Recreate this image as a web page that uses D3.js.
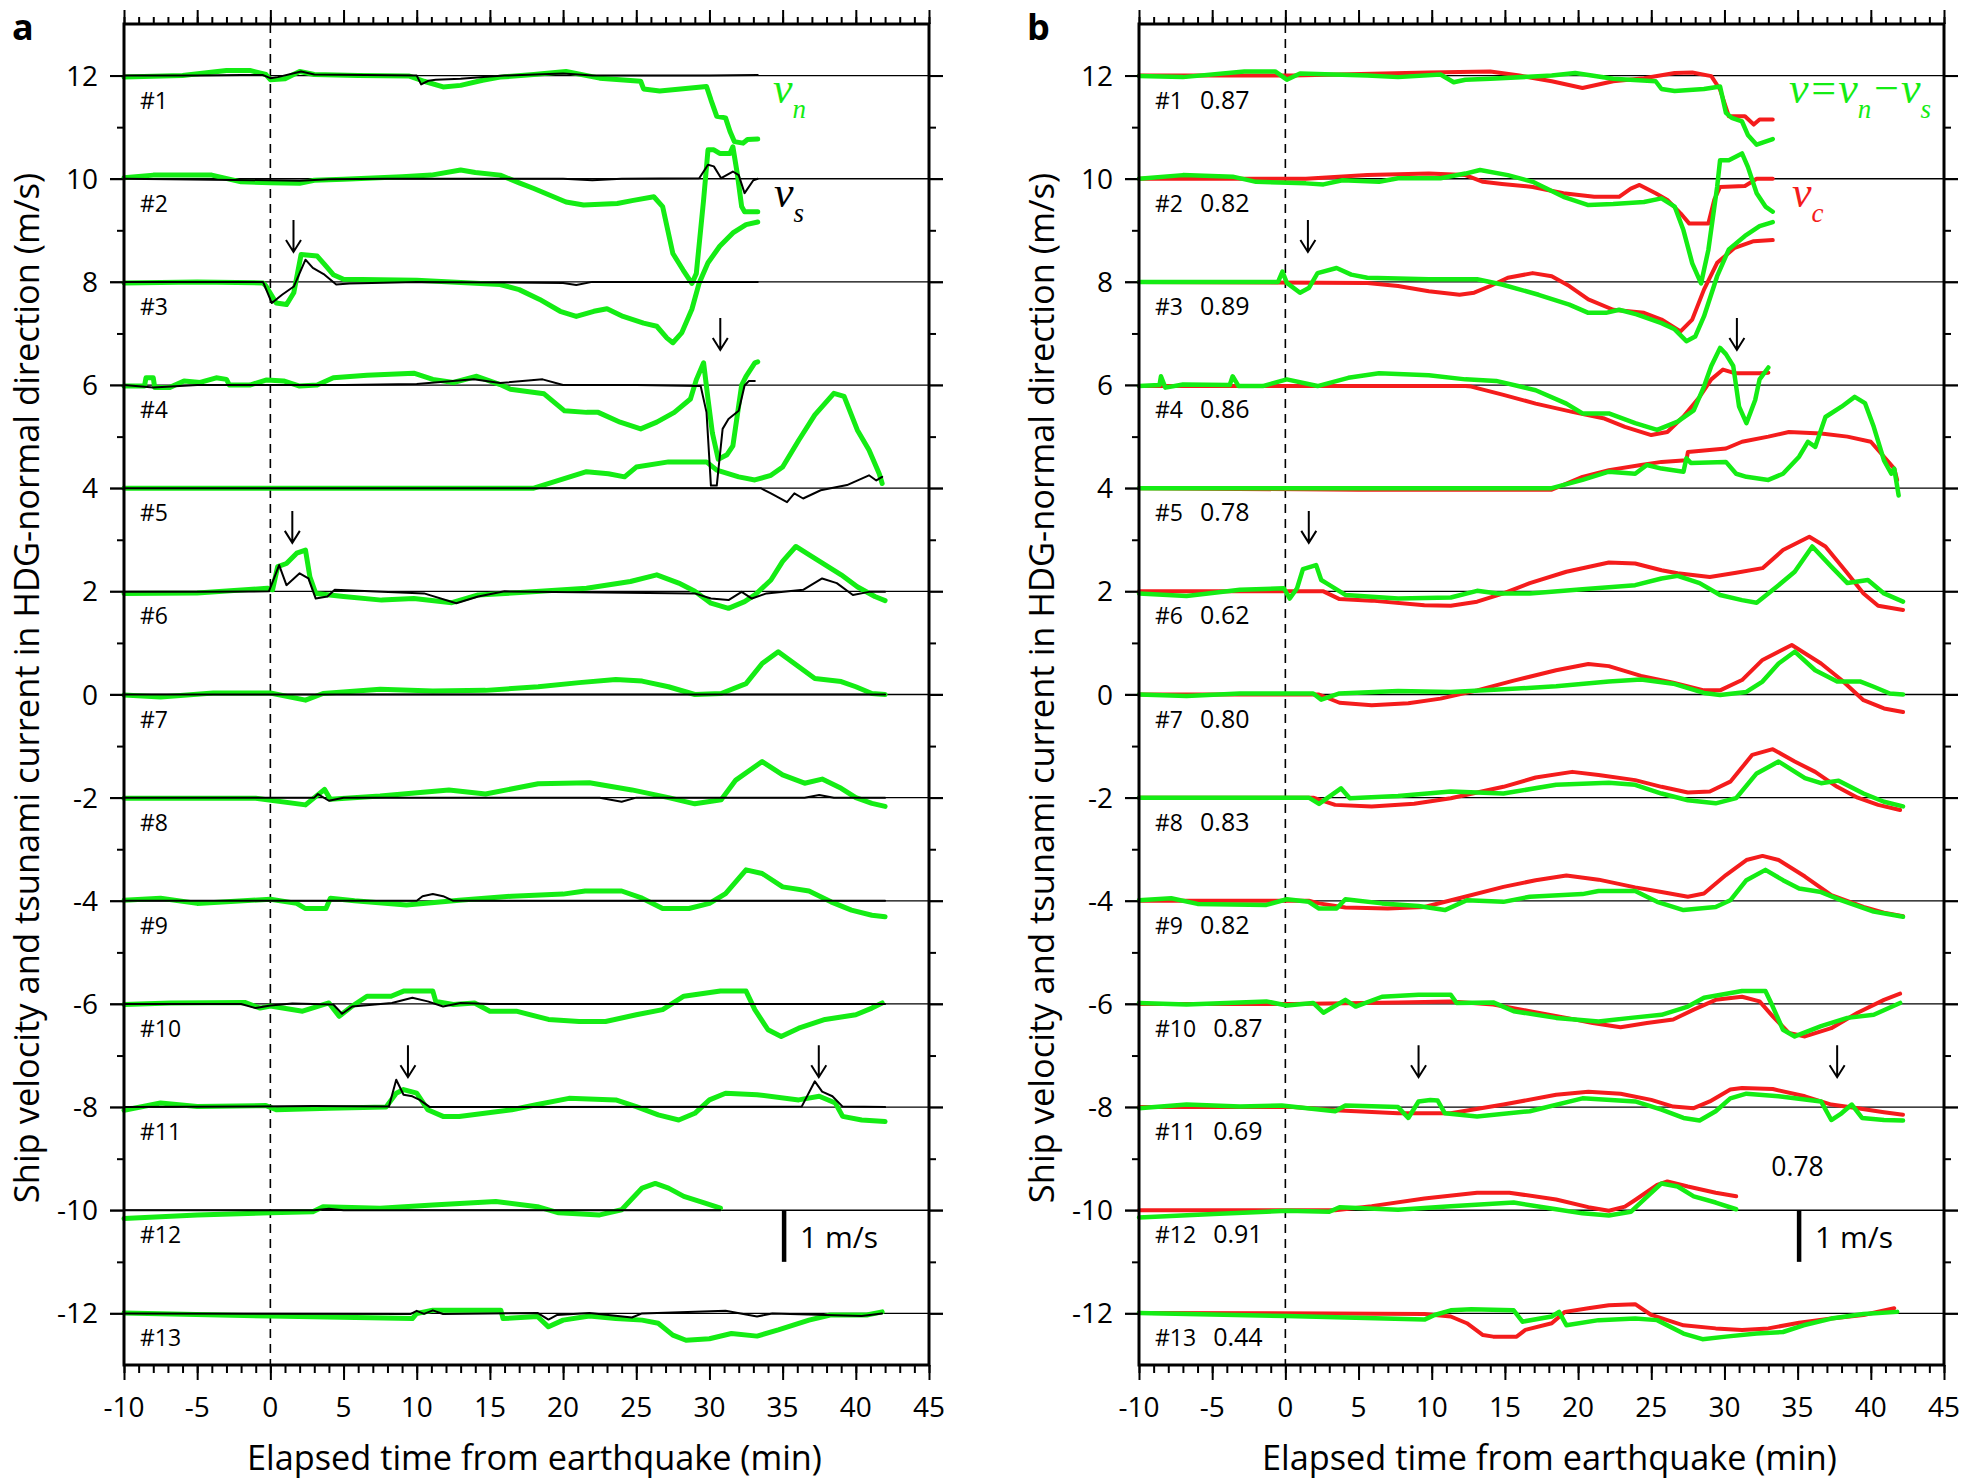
<!DOCTYPE html>
<html><head><meta charset="utf-8">
<script src="https://cdn.jsdelivr.net/npm/d3@7"></script>
<style>body{margin:0;background:#fff} svg{display:block}</style>
</head><body>
<svg id="chart" width="1961" height="1482"></svg>
<script>
// ---------------- DATA ----------------
const xTicks = [-10,-5,0,5,10,15,20,25,30,35,40,45];
const yTicks = [12,10,8,6,4,2,0,-2,-4,-6,-8,-10,-12];
const baselines = [12,10,8,6,4,2,0,-2,-4,-6,-8,-10,-12];
const traceLabels = ["#1","#2","#3","#4","#5","#6","#7","#8","#9","#10","#11","#12","#13"];
const corrB = ["0.87","0.82","0.89","0.86","0.78","0.62","0.80","0.83","0.82","0.87","0.69","0.91","0.44"];
const extraCorr = {label:"0.78", t:33.2, v:-9.34};
// arrows: [trace index (1-based), time (min), tip offset above baseline (m/s)]
const arrowsA = [[3,1.58,0.58],[4,30.74,0.68],[6,1.5,0.94],[11,9.4,0.58],[11,37.47,0.58]];
const arrowsB = [[3,1.54,0.58],[4,30.85,0.68],[6,1.6,0.94],[11,9.1,0.58],[11,37.7,0.58]];
const scaleBar = {t:35.1, from:-10, to:-11, label:"1 m/s"};

// panel a : v_n (green), deviations from each trace baseline [t, m/s]
const vnA = [
 [[-10,-0.03],[-6,0],[-3,0.1],[-1.4,0.1],[-0.3,0.02],[0,-0.08],[1,-0.06],[2,0.08],[3,0.02],[6,0],[9.5,-0.01],[10.5,-0.11],[11.8,-0.22],[13,-0.19],[14.5,-0.09],[15.7,-0.03],[18,0.02],[20.2,0.08],[22.5,-0.05],[25.3,-0.11],[25.5,-0.26],[26.6,-0.3],[29.8,-0.21],[30.1,-0.47],[30.5,-0.79],[31.1,-0.82],[31.4,-1.08],[31.7,-1.28],[32.3,-1.31],[32.6,-1.24],[33.3,-1.23]],
 [[-10,0.02],[-8,0.07],[-4,0.07],[-2,-0.06],[0,-0.08],[2,-0.09],[3,-0.03],[5,-0.01],[9,0.04],[11,0.07],[13,0.17],[14,0.12],[15.7,0.07],[17,-0.08],[18,-0.19],[20.2,-0.45],[21.4,-0.51],[23.7,-0.48],[24.8,-0.42],[26.2,-0.35],[26.8,-0.54],[27.5,-1.45],[28.2,-1.77],[28.8,-2.03],[29.1,-1.84],[29.6,-0.41],[29.9,0.56],[30.3,0.56],[30.7,0.49],[31.4,0.49],[31.6,0.62],[31.9,0.1],[32.2,-0.54],[32.4,-0.64],[33.3,-0.64]],
 [[-10,-0.02],[-5,0],[-0.5,-0.02],[-0.3,-0.08],[0.4,-0.41],[1.1,-0.44],[1.6,-0.21],[2.1,0.53],[3.2,0.5],[3.7,0.34],[4.3,0.14],[5,0.05],[10,0.03],[15.7,-0.05],[17,-0.15],[18.4,-0.34],[19.8,-0.57],[20.9,-0.67],[22.1,-0.57],[23,-0.52],[24.1,-0.67],[25.5,-0.8],[26.4,-0.86],[27.1,-1.09],[27.5,-1.18],[28.1,-0.99],[28.8,-0.53],[29.3,-0.02],[29.9,0.37],[30.7,0.69],[31.6,0.95],[32.5,1.11],[33.3,1.16]],
 [[-10,-0.02],[-8.6,-0.02],[-8.5,0.14],[-8,0.14],[-7.9,-0.05],[-6.9,-0.05],[-5.9,0.08],[-4.8,0.05],[-3.7,0.14],[-3,0.11],[-2.8,0],[-1.4,0],[-0.25,0.1],[0.9,0.08],[2,-0.02],[3.2,0],[4.3,0.14],[6.6,0.19],[9.8,0.23],[11.1,0.11],[12.5,0.05],[14.1,0.17],[15.7,0.01],[16.4,-0.08],[18.7,-0.17],[20.1,-0.5],[21.6,-0.53],[22.4,-0.53],[23.9,-0.72],[25.3,-0.85],[26.4,-0.72],[27.6,-0.53],[28.7,-0.27],[29.1,0.1],[29.6,0.43],[29.9,-0.27],[30.2,-0.93],[30.6,-1.44],[31.2,-1.35],[31.6,-1.18],[32.2,0],[32.5,0.17],[33.1,0.43],[33.3,0.45]],
 [[-10,0],[18,0],[19.8,0.16],[21.6,0.32],[23.1,0.28],[24.2,0.22],[25,0.41],[27.2,0.51],[29.8,0.51],[30.5,0.35],[32,0.22],[33.1,0.16],[34.2,0.25],[35,0.41],[36.1,0.93],[37.2,1.42],[38.5,1.84],[39.2,1.78],[40.1,1.13],[40.9,0.74],[41.6,0.28],[41.8,0.09]],
 [[-10,-0.04],[-5,-0.03],[-0.2,0.06],[0.15,0.03],[0.5,0.48],[1.1,0.54],[1.8,0.74],[2.4,0.8],[2.7,0.28],[3.1,-0.04],[5,-0.1],[7.6,-0.17],[9.8,-0.14],[12.4,-0.22],[14.2,-0.07],[17.9,-0.01],[21.6,0.06],[24.6,0.19],[26.4,0.32],[27.9,0.16],[29,0],[30.1,-0.23],[31.3,-0.33],[32.4,-0.2],[33.1,-0.07],[34.2,0.22],[35,0.58],[35.9,0.87],[37.2,0.64],[39,0.32],[40.1,0.09],[41.3,-0.1],[42,-0.18]],
 [[-10,-0.01],[-7.5,-0.05],[-3.9,0.03],[0,0.03],[2.4,-0.11],[3.6,0.02],[7.5,0.1],[11.1,0.07],[14.7,0.08],[18.3,0.15],[21.1,0.23],[23.6,0.29],[25.4,0.26],[27.2,0.15],[29,0],[30.8,0.02],[32.5,0.21],[33.6,0.6],[34.7,0.83],[35.8,0.6],[37.2,0.31],[39,0.25],[40,0.15],[41.1,0.02],[42,0]],
 [[-10,-0.01],[-1,-0.01],[2.4,-0.14],[3.7,0.16],[4.1,-0.03],[7.5,0.03],[12.2,0.15],[14.7,0.07],[18.3,0.27],[21.8,0.29],[24.7,0.15],[27.2,0],[29,-0.12],[30.8,-0.04],[31.8,0.34],[33.6,0.7],[35,0.44],[36.5,0.28],[37.7,0.36],[39,0.18],[40,0],[41.1,-0.11],[42,-0.17]],
 [[-10,0.01],[-7.5,0.05],[-5,-0.05],[0,0.03],[1.8,-0.05],[2.4,-0.15],[3.8,-0.15],[4.1,0.05],[5.75,0],[9.3,-0.08],[12.9,0.01],[16.5,0.09],[20,0.13],[21.5,0.19],[24,0.19],[25.4,0.05],[26.8,-0.15],[28.6,-0.15],[30,-0.05],[31.1,0.14],[32.5,0.6],[33.6,0.53],[35,0.27],[36.8,0.19],[38.3,-0.02],[39.7,-0.18],[41.1,-0.28],[42,-0.31]],
 [[-10,-0.01],[-6.8,0.02],[-1.75,0.03],[-0.7,-0.08],[0,-0.04],[2.2,-0.14],[4,0.02],[4.7,-0.24],[5.6,-0.04],[6.6,0.15],[8.25,0.15],[9.1,0.25],[11.1,0.25],[11.3,0.05],[12.5,-0.01],[13.95,0.02],[15,-0.14],[16.8,-0.14],[19,-0.3],[21.1,-0.34],[22.9,-0.34],[25,-0.21],[26.8,-0.11],[28.25,0.15],[30.75,0.25],[32.5,0.25],[33.1,-0.11],[34,-0.5],[34.9,-0.63],[36.1,-0.47],[37.9,-0.3],[40,-0.21],[41.1,-0.08],[41.8,0.02]],
 [[-10,-0.06],[-7.5,0.08],[-5,0.01],[-0.3,0.03],[0.4,-0.05],[4,-0.02],[7.9,0],[8.6,0.27],[9.1,0.34],[10,0.27],[10.75,-0.05],[11.8,-0.18],[12.9,-0.18],[16.5,-0.05],[18.25,0.05],[20.4,0.17],[23.6,0.14],[25,0.01],[26.5,-0.15],[27.9,-0.25],[29,-0.12],[30,0.14],[31.1,0.27],[33.25,0.24],[36.1,0.14],[37.5,0.21],[38.6,0.08],[39.1,-0.18],[40.4,-0.25],[42,-0.28]],
 [[-10,-0.16],[-5,-0.09],[0,-0.05],[2.9,-0.03],[3.6,0.07],[7.5,0.04],[11.1,0.1],[15.4,0.17],[18.25,0.07],[19.7,-0.05],[22.5,-0.09],[24,0.01],[25.4,0.43],[26.3,0.52],[27.2,0.43],[28.25,0.27],[29.7,0.14],[30.75,0.04]],
 [[-10,0.01],[0,-0.05],[9.7,-0.1],[10,0],[11.1,0.06],[15.75,0.06],[15.9,-0.1],[18.25,-0.06],[19,-0.26],[20,-0.13],[21.8,-0.05],[23.6,-0.1],[25.4,-0.13],[26.5,-0.19],[27.5,-0.42],[28.4,-0.52],[30,-0.49],[31.5,-0.39],[33.25,-0.44],[34.7,-0.32],[36.8,-0.13],[38.25,-0.03],[40.75,-0.03],[41.8,0.03]]
];
// panel a : v_s (black)
const vsA = [
 [[-10,0],[-5,0],[-2,0.01],[-0.5,0.01],[0,-0.05],[0.5,-0.03],[2.1,0.08],[3,0.02],[10,0],[10.3,-0.17],[10.8,-0.1],[11.3,-0.08],[13,-0.06],[15,-0.02],[16,0],[20,0.04],[22,0],[26,0],[30,0],[33.3,0.01]],
 [[-10,0],[0,-0.03],[2,-0.04],[4,-0.01],[8,0],[20,0],[22,-0.03],[24,0],[29.3,0.01],[29.9,0.27],[30.3,0.24],[30.8,0.01],[31.6,0.14],[32,0.07],[32.4,-0.28],[33,-0.03],[33.3,0]],
 [[-10,0],[-5,0],[-0.5,0],[0.1,-0.41],[0.8,-0.25],[1.6,-0.09],[2.4,0.43],[2.9,0.27],[3.7,0.14],[4.5,-0.05],[5.4,-0.03],[10,0],[20,-0.02],[20.9,-0.06],[22,0],[33.3,0]],
 [[-10,0],[-8,-0.05],[-5,0],[5,0],[10,0.02],[13.9,0.11],[15.7,0.04],[18.6,0.11],[20,0],[25,0],[29.4,-0.02],[29.8,-0.53],[30.1,-1.95],[30.5,-1.95],[30.9,-0.85],[31.3,-0.66],[32,-0.5],[32.4,-0.01],[32.7,0.08],[33.1,0.08]],
 [[-10,0],[30,0],[33.5,0],[34.2,-0.1],[35.3,-0.27],[35.8,-0.1],[36.4,-0.2],[37.6,-0.04],[39.4,0.06],[40.9,0.25],[41.4,0.15],[41.8,0.22]],
 [[-10,-0.01],[-5,-0.01],[-0.1,0],[0.6,0.51],[1.1,0.12],[2,0.35],[2.6,0.25],[3.1,-0.14],[3.9,-0.1],[4.4,0.03],[10.5,-0.04],[12.7,-0.23],[14.2,-0.1],[16,0],[29,-0.04],[30.1,-0.14],[31.3,-0.17],[32.2,-0.01],[32.9,-0.14],[33.9,-0.04],[36.4,0.03],[37.7,0.25],[38.7,0.16],[39.8,-0.07],[40.9,-0.01],[42,-0.01]],
 [[-10,0],[42,0]],
 [[-10,0],[3,0],[3.25,0.07],[4,-0.06],[5,0],[22.5,0],[24,-0.08],[25,0],[36.5,0],[37.5,0.05],[38.5,0],[42,0]],
 [[-10,0],[10,0],[10.4,0.09],[11.1,0.13],[11.8,0.09],[12.5,0],[42,0]],
 [[-10,0],[-2,0],[-1,-0.08],[0,-0.03],[1.5,0.01],[4.3,-0.01],[4.9,-0.19],[5.6,-0.05],[8.3,0.02],[9.7,0.12],[10.75,0.05],[11.8,-0.05],[13,0.02],[15,0],[42,0]],
 [[-10,0],[3,0.02],[8.1,0.01],[8.6,0.53],[9.1,0.24],[9.7,0.21],[10.2,0.14],[10.9,0],[36.3,0.01],[37.2,0.5],[37.7,0.3],[38.4,0.21],[39.1,0.01],[42,0]],
 [[-10,0],[3,0],[4,0.03],[5,0],[30.75,0]],
 [[-10,0],[9.6,-0.01],[10,0.05],[10.5,-0.01],[11.1,0.06],[11.8,-0.01],[18.25,0.01],[19,-0.12],[19.6,-0.03],[21.8,0.01],[24.7,-0.08],[25.4,0],[31.1,0.05],[33.25,-0.06],[34.3,0],[40.4,-0.05],[41.8,0]]
];
// panel b : v = v_n - v_s (green)
const vB = [
 [[-10,-0.01],[-7,-0.03],[-2.8,0.08],[-0.7,0.08],[0.1,-0.08],[1,0.04],[5.6,0],[7.7,-0.03],[10.6,0.02],[11.5,-0.13],[12.3,-0.08],[14,-0.06],[18.2,0],[19.8,0.05],[22.4,-0.06],[25.3,-0.11],[25.7,-0.26],[26.6,-0.3],[28.6,-0.26],[29.7,-0.21],[30.1,-0.72],[30.5,-0.82],[31.2,-0.89],[31.6,-1.15],[32.2,-1.34],[33.3,-1.23]],
 [[-10,0],[-7,0.07],[-3.6,0.04],[-2,-0.06],[1.4,-0.09],[2.6,-0.11],[3.9,-0.03],[6.4,-0.06],[7.7,0.01],[10.6,0.01],[12.3,0.1],[13.3,0.17],[15.2,0.07],[16.9,-0.06],[19,-0.35],[20.7,-0.51],[22.4,-0.49],[24.5,-0.45],[25.7,-0.38],[26.6,-0.54],[27.2,-1],[27.8,-1.64],[28.4,-2.03],[28.9,-1.38],[29.5,-0.16],[29.7,0.36],[30.3,0.36],[31.2,0.49],[31.6,0.23],[32.2,-0.28],[32.8,-0.54],[33.3,-0.64]],
 [[-10,0],[-0.5,0],[-0.2,0.2],[0.1,-0.02],[1,-0.21],[1.6,-0.12],[2.2,0.17],[3.5,0.27],[4.5,0.14],[5.6,0.08],[9.8,0.05],[13.1,0.05],[14.8,-0.05],[17.3,-0.25],[19.4,-0.44],[20.7,-0.6],[21.9,-0.6],[22.8,-0.54],[24,-0.63],[25.7,-0.8],[26.6,-0.92],[27.4,-1.15],[28,-1.06],[28.6,-0.67],[29.5,0.11],[30.3,0.63],[31.4,0.89],[32.4,1.08],[33.3,1.16]],
 [[-10,-0.02],[-8.6,0],[-8.5,0.17],[-8.2,-0.05],[-7,0.01],[-3.8,0],[-3.6,0.17],[-3.2,-0.02],[-1.55,-0.02],[0.1,0.11],[2.2,-0.02],[4.3,0.14],[6.4,0.23],[9.8,0.19],[12.3,0.11],[14.4,0.08],[17.1,-0.1],[19.2,-0.36],[20.3,-0.55],[22.1,-0.55],[23.9,-0.74],[25.4,-0.87],[26.8,-0.71],[27.9,-0.49],[28.6,-0.03],[29.1,0.37],[29.7,0.72],[30.1,0.6],[30.6,0.37],[31,-0.42],[31.5,-0.74],[32.1,-0.29],[32.4,0.11],[33,0.34]],
 [[-10,0],[18.2,0],[20.3,0.16],[22.1,0.32],[23.9,0.28],[24.7,0.45],[25.7,0.38],[27.2,0.32],[27.4,0.58],[27.7,0.49],[30.1,0.51],[30.8,0.28],[31.5,0.22],[33,0.16],[34,0.28],[35.1,0.61],[35.7,0.9],[36.2,0.8],[36.9,1.38],[38,1.58],[38.9,1.77],[39.6,1.65],[40.2,1.19],[40.9,0.54],[41.4,0.28],[41.6,0.38],[41.9,-0.14]],
 [[-10,-0.04],[-6.75,-0.09],[-3.1,0.03],[-0.1,0.06],[0.3,-0.14],[0.8,0.06],[1.2,0.43],[2.1,0.51],[2.45,0.22],[2.8,0.16],[4.1,-0.07],[7.7,-0.14],[11.3,-0.12],[13.1,0.01],[14.5,-0.04],[16.7,-0.04],[20.3,0.04],[23.9,0.12],[25.7,0.25],[26.8,0.3],[28.3,0.16],[29.7,-0.07],[31.2,-0.17],[32.2,-0.22],[33.7,0.12],[34.8,0.38],[36,0.87],[37.3,0.48],[38.4,0.16],[39.8,0.22],[40.9,-0.04],[42.2,-0.2]],
 [[-10,0],[-6.75,-0.03],[-3.1,0.02],[1.9,0.02],[2.45,-0.1],[3.7,0.02],[7.7,0.07],[11.3,0.05],[14.9,0.1],[18.5,0.16],[22.1,0.25],[24.3,0.29],[26.5,0.21],[28.6,0.03],[29.7,-0.01],[31.5,0.05],[32.6,0.25],[33.7,0.6],[34.8,0.83],[36.2,0.47],[37.7,0.25],[39.3,0.25],[40.2,0.15],[41.3,0.02],[42.2,0]],
 [[-10,0],[1.6,0],[2.3,-0.12],[3.8,0.18],[4.4,-0.01],[7.7,0.03],[11.3,0.12],[14.9,0.08],[18.5,0.25],[22.1,0.29],[23.9,0.25],[25.7,0.08],[27.5,-0.05],[29.4,-0.11],[30.8,-0.01],[32.2,0.47],[33.7,0.7],[35.5,0.38],[36.6,0.28],[37.8,0.33],[39.5,0.08],[40.9,-0.08],[42.2,-0.17]],
 [[-10,0.01],[-7.8,0.05],[-6,-0.06],[-1.3,-0.08],[0.1,0.03],[1.6,-0.02],[2.3,-0.15],[3.5,-0.15],[4.1,0.03],[6.6,-0.05],[9.1,-0.1],[10.9,-0.18],[12.4,0.01],[14.9,-0.02],[16.7,0.08],[20.3,0.13],[21.4,0.19],[23.9,0.19],[25.4,-0.02],[27.2,-0.18],[29.4,-0.12],[30.4,0.01],[31.5,0.4],[32.8,0.6],[34,0.4],[35.1,0.24],[36.6,0.17],[38,0.01],[40.2,-0.21],[42.2,-0.31]],
 [[-10,0.02],[-6.75,-0.01],[-1.3,0.05],[0.1,-0.03],[1.9,0.02],[2.6,-0.17],[4.1,0.08],[4.8,-0.05],[6.6,0.14],[9.1,0.18],[11.3,0.18],[11.7,0.02],[14.2,0.03],[15.6,-0.14],[18.5,-0.27],[21.4,-0.34],[23.6,-0.27],[25.7,-0.21],[27.5,-0.05],[28.6,0.12],[31.2,0.25],[32.8,0.25],[33.3,-0.05],[34,-0.5],[34.8,-0.63],[36.6,-0.43],[38.4,-0.27],[40.2,-0.21],[42,0.02]],
 [[-10,-0.02],[-6.75,0.05],[-3.1,0.01],[-0.25,0.03],[3.4,-0.08],[4.1,0.03],[7.7,0],[8.4,-0.21],[9.1,0.11],[9.9,0.14],[10.4,0.13],[10.9,-0.12],[13.1,-0.18],[16.7,-0.08],[20.3,0.17],[23.9,0.11],[25.7,-0.05],[27.2,-0.21],[28.3,-0.26],[29.4,-0.08],[30.4,0.17],[31.5,0.26],[33.7,0.21],[36.6,0.11],[37.3,-0.25],[38,-0.12],[38.7,0.05],[39.4,-0.21],[40.9,-0.25],[42.2,-0.26]],
 [[-10,-0.14],[-4.9,-0.07],[0.1,-0.01],[3,-0.03],[3.7,0.06],[7.7,0.01],[11.3,0.08],[15.6,0.15],[18.5,0.02],[20.3,-0.06],[22.1,-0.1],[23.6,-0.03],[24.7,0.26],[25.7,0.52],[26.8,0.46],[27.9,0.27],[29.4,0.15],[30.8,0.02]],
 [[-10,0.01],[0.1,-0.05],[9.5,-0.12],[10.2,-0.03],[11.3,0.06],[12.7,0.08],[15.6,0.06],[16.2,-0.16],[18.2,-0.06],[18.7,0.03],[19.2,-0.23],[21.4,-0.13],[23.9,-0.1],[25.4,-0.13],[27.2,-0.39],[28.5,-0.5],[30.1,-0.45],[32.2,-0.39],[34,-0.36],[35.4,-0.23],[37.3,-0.1],[39.5,-0.01],[41.8,0.03]]
];
// panel b : v_c (red)
const vcB = [
 [[-10,0],[0.5,0],[9.8,0.06],[14,0.08],[16,0],[18.2,-0.11],[20.3,-0.24],[22.4,-0.11],[24.5,-0.05],[26.6,0.05],[27.8,0.06],[29.1,-0.01],[29.7,-0.27],[30.3,-0.79],[31.4,-0.79],[32,-0.95],[32.4,-0.85],[33.3,-0.85]],
 [[-10,0],[1.4,0],[5.6,0.07],[9.8,0.1],[12.3,0.07],[13.5,-0.06],[14.8,-0.1],[16.9,-0.16],[19,-0.28],[21.1,-0.35],[22.8,-0.35],[23.6,-0.19],[24.2,-0.12],[25.3,-0.28],[26.1,-0.41],[27,-0.67],[27.6,-0.87],[28.9,-0.87],[29.3,-0.41],[29.7,-0.16],[31.4,-0.14],[32.2,0],[33.3,0]],
 [[-10,0],[5.6,-0.02],[7.7,-0.08],[9.8,-0.18],[11.9,-0.25],[12.9,-0.21],[14,-0.08],[15.2,0.08],[16.9,0.17],[18.2,0.11],[19.4,-0.08],[20.7,-0.34],[22.4,-0.54],[24.5,-0.6],[25.7,-0.73],[27,-0.96],[27.8,-0.73],[28.6,-0.15],[29.5,0.37],[30.7,0.66],[32,0.79],[33.3,0.81]],
 [[-10,-0.02],[12.3,-0.02],[12.7,-0.03],[14.9,-0.19],[17.1,-0.36],[19.6,-0.52],[21.8,-0.65],[23.2,-0.81],[25,-0.97],[26.1,-0.91],[27.2,-0.61],[28.3,-0.23],[29.1,0.11],[29.9,0.3],[30.7,0.23],[32.4,0.23],[33,0.24]],
 [[-10,0],[5,-0.03],[18.2,-0.03],[20.3,0.22],[22.1,0.35],[24.3,0.45],[25.7,0.51],[27.4,0.54],[27.5,0.7],[30.1,0.77],[31.2,0.9],[33,1],[34.4,1.09],[36.6,1.06],[38.4,1],[40,0.9],[40.9,0.61],[41.6,0.38],[41.8,0.16]],
 [[-10,0],[2.6,0],[3.7,-0.15],[5.9,-0.18],[9.5,-0.27],[11.3,-0.28],[13.1,-0.2],[14.9,-0.04],[16.7,0.16],[19.2,0.38],[22.1,0.56],[23.9,0.54],[25.7,0.41],[26.8,0.35],[29,0.28],[30.8,0.36],[32.6,0.45],[34,0.8],[35.8,1.06],[36.9,0.87],[38.4,0.35],[39.5,-0.04],[40.5,-0.28],[42.2,-0.36]],
 [[-10,0],[2.3,0],[3.7,-0.16],[5.9,-0.21],[8.4,-0.17],[10.6,-0.08],[13.1,0.08],[15.6,0.27],[18.5,0.47],[20.7,0.59],[22.1,0.55],[24.3,0.36],[26.5,0.23],[28.6,0.08],[29.7,0.08],[31.2,0.28],[32.6,0.67],[34.6,0.96],[36.6,0.6],[38,0.28],[39.5,-0.11],[40.9,-0.27],[42.2,-0.34]],
 [[-10,0],[1.9,0],[3.4,-0.14],[5.9,-0.17],[8.8,-0.12],[11.3,-0.01],[14.9,0.21],[17.1,0.39],[19.6,0.5],[21.4,0.44],[23.9,0.34],[25.7,0.21],[27.5,0.1],[29,0.12],[30.4,0.31],[31.9,0.83],[33.3,0.94],[34.8,0.7],[36.2,0.5],[37.7,0.21],[39.1,0],[40.5,-0.14],[42,-0.24]],
 [[-10,0],[1.6,0],[2.3,-0.05],[4.1,-0.13],[7,-0.15],[9.5,-0.12],[12,0.06],[14.9,0.27],[17.1,0.4],[19.2,0.49],[21.4,0.41],[23.9,0.26],[25.7,0.17],[27.5,0.08],[28.6,0.14],[30.1,0.5],[31.5,0.79],[32.6,0.87],[33.7,0.79],[35.5,0.47],[37.3,0.11],[39.5,-0.12],[40.9,-0.23],[42.2,-0.3]],
 [[-10,0],[0.5,0],[7.7,0.03],[11.3,0.05],[14.2,-0.01],[16.7,-0.14],[19.2,-0.27],[21,-0.37],[22.9,-0.45],[24.7,-0.37],[26.5,-0.3],[27.9,-0.11],[29.4,0.08],[31.2,0.14],[32.4,0.05],[33.3,-0.24],[34.4,-0.56],[35.5,-0.63],[37.3,-0.47],[39.1,-0.17],[40.9,0.08],[42,0.2]],
 [[-10,0],[0.5,0],[3.4,-0.06],[7.7,-0.12],[11.3,-0.12],[14.9,0.05],[18.5,0.24],[20.7,0.3],[22.9,0.26],[25,0.14],[26.5,0.01],[27.9,-0.02],[29,0.11],[30.4,0.34],[31.2,0.37],[33.3,0.35],[35.5,0.21],[37.3,0.05],[39.1,-0.02],[40.9,-0.1],[42.2,-0.15]],
 [[-10,0],[3.4,0],[5.9,0.08],[9.5,0.23],[13.1,0.34],[15.3,0.34],[18.5,0.21],[20.7,0.06],[22.1,-0.01],[23.2,0.07],[23.9,0.2],[25.4,0.49],[26.1,0.56],[27.5,0.46],[29.4,0.34],[30.8,0.27]],
 [[-10,0.01],[3,0],[9.5,-0.01],[11.3,-0.06],[12.4,-0.19],[13.5,-0.42],[14.2,-0.45],[15.8,-0.45],[16.4,-0.32],[18.2,-0.19],[19.1,0.03],[20.7,0.1],[22.1,0.16],[23.9,0.18],[25,-0.03],[27.2,-0.23],[29.4,-0.29],[31.2,-0.32],[33,-0.29],[35.1,-0.18],[37.3,-0.1],[39.5,-0.03],[41.6,0.1]]
];

// ---------------- DRAWING ----------------
const svg = d3.select("#chart");
const FONT = "'Open Sans','Noto Sans',sans-serif";
const SERIF = "'Liberation Serif','DejaVu Serif',serif";
const GREEN = "#14ec14", RED = "#f41c1c";
const y = d3.scaleLinear().domain([-13,13]).range([1365,24]);
const xA = d3.scaleLinear().domain([-10,45]).range([124,929]);
const xB = d3.scaleLinear().domain([-10,45]).range([1139,1944]);
const minorX = d3.range(-10,46,1);
const minorY = d3.range(-11,12,2);

function fitText(sel, target){
  const n = sel.node(); const w = n.getComputedTextLength();
  const fs = parseFloat(sel.attr("font-size"));
  const nf = fs*target/w;
  sel.attr("font-size", nf.toFixed(2));
  return nf;
}

function panel(x, series, arrows, letter, withCorr){
  const g = svg.append("g");
  const [x0,x1] = x.range();
  const [yb,yt] = y.range();
  g.selectAll("line.base").data(baselines).join("line").attr("class","base")
    .attr("x1",x0-14).attr("x2",x1+14).attr("y1",d=>y(d)).attr("y2",d=>y(d))
    .attr("stroke","#000").attr("stroke-width",1.3);
  g.append("line").attr("x1",x(0)).attr("x2",x(0)).attr("y1",yt).attr("y2",yb)
    .attr("stroke","#000").attr("stroke-width",1.6).attr("stroke-dasharray","9,6");
  series.forEach(s=>{
    s.data.forEach((tr,i)=>{
      const base = baselines[i];
      const line = d3.line().x(d=>x(d[0])).y(d=>y(base+d[1]));
      g.append("path").attr("d",line(tr)).attr("fill","none").attr("stroke",s.color)
        .attr("stroke-width",s.width).attr("stroke-linejoin","round").attr("stroke-linecap","round");
    });
  });
  g.append("rect").attr("x",x0).attr("y",yt).attr("width",x1-x0).attr("height",yb-yt)
    .attr("fill","none").attr("stroke","#000").attr("stroke-width",3);
  const clean = s=>{ s.select(".domain").remove(); s.selectAll(".tick line").attr("stroke-width",2); };
  g.append("g").attr("transform",`translate(0,${yt})`).call(d3.axisTop(x).tickValues(minorX).tickSize(7).tickFormat("")).call(clean);
  g.append("g").attr("transform",`translate(0,${yt})`).call(d3.axisTop(x).tickValues(xTicks).tickSize(14).tickFormat("")).call(clean);
  g.append("g").attr("transform",`translate(0,${yb})`).call(d3.axisBottom(x).tickValues(minorX).tickSize(8).tickFormat("")).call(clean);
  g.append("g").attr("transform",`translate(0,${yb})`).call(d3.axisBottom(x).tickValues(xTicks).tickSize(15).tickFormat("")).call(clean);
  g.append("g").attr("transform",`translate(${x0},0)`).call(d3.axisLeft(y).tickValues(minorY).tickSize(7).tickFormat("")).call(clean);
  g.append("g").attr("transform",`translate(${x0},0)`).call(d3.axisLeft(y).tickValues(yTicks).tickSize(14).tickFormat("")).call(clean);
  g.append("g").attr("transform",`translate(${x1},0)`).call(d3.axisRight(y).tickValues(minorY).tickSize(7).tickFormat("")).call(clean);
  g.append("g").attr("transform",`translate(${x1},0)`).call(d3.axisRight(y).tickValues(yTicks).tickSize(14).tickFormat("")).call(clean);
  g.selectAll("text.xt").data(xTicks).join("text").attr("class","xt")
    .attr("x",d=>x(d)).attr("y",1417).attr("text-anchor","middle")
    .attr("font-family",FONT).attr("font-size",28).text(d=>String(d));
  g.selectAll("text.yt").data(yTicks).join("text").attr("class","yt")
    .attr("x",x0-26).attr("y",d=>y(d)+10).attr("text-anchor","end")
    .attr("font-family",FONT).attr("font-size",28).text(d=>String(d));
  baselines.forEach((b,i)=>{
    const t = g.append("text").attr("x",x0+16).attr("y",y(b)+33).attr("font-family",FONT)
      .attr("font-size",23).text(traceLabels[i]);
    if(withCorr){
      const w = t.node().getComputedTextLength();
      g.append("text").attr("x",x0+16+w+17).attr("y",y(b)+33).attr("font-family",FONT)
        .attr("font-size",25).text(corrB[i]);
    }
  });
  arrows.forEach(([k,t,v])=>{
    const b = baselines[k-1];
    const ax = x(t), tip = y(b+v), top = y(b+v+0.62);
    g.append("path").attr("d",`M${ax},${top}L${ax},${tip}M${ax-7.5},${tip-12}L${ax},${tip}L${ax+7.5},${tip-12}`)
      .attr("fill","none").attr("stroke","#000").attr("stroke-width",2);
  });
  g.append("line").attr("x1",x(scaleBar.t)).attr("x2",x(scaleBar.t)).attr("y1",y(scaleBar.from)).attr("y2",y(scaleBar.to))
    .attr("stroke","#000").attr("stroke-width",4.5);
  g.append("text").attr("x",x(scaleBar.t)+16).attr("y",1248).attr("font-family",FONT).attr("font-size",30).text(scaleBar.label);
  g.append("text").attr("x",x0-112).attr("y",40).attr("font-family",FONT).attr("font-weight","bold")
    .attr("font-size",36).text(letter);
  const xt = g.append("text").attr("x",(x0+x1)/2+8).attr("y",1470).attr("text-anchor","middle")
    .attr("font-family",FONT).attr("font-size",34).text("Elapsed time from earthquake (min)");
  fitText(xt,575);
  const yt2 = g.append("text").attr("text-anchor","middle")
    .attr("font-family",FONT).attr("font-size",34).text("Ship velocity and tsunami current in HDG-normal direction (m/s)");
  const fs = fitText(yt2,1031);
  const bx = Math.max(x0-91, x0-124+Math.ceil(fs*1.07)+2);
  yt2.attr("transform",`translate(${bx},688) rotate(-90)`);
  return g;
}

const gA = panel(xA, [{data:vnA,color:GREEN,width:5},{data:vsA,color:"#000",width:2}], arrowsA, "a", false);
const gB = panel(xB, [{data:vcB,color:RED,width:4},{data:vB,color:GREEN,width:4.5}], arrowsB, "b", true);

gB.append("text").attr("x",xB(extraCorr.t)).attr("y",y(extraCorr.v)).attr("font-family",FONT)
  .attr("font-size",26.5).text(extraCorr.label);

// legends (italic serif, with subscripts as tspans)
function legend(g, x, yy, color, parts){
  const t = g.append("text").attr("x",x).attr("y",yy).attr("font-family",SERIF).attr("font-style","italic")
    .attr("fill",color);
  let sub = false;
  parts.forEach(([txt,isSub])=>{
    const dy = isSub && !sub ? 15 : (!isSub && sub ? -15 : 0);
    t.append("tspan").attr("dy",dy).attr("font-size",isSub?27:44).text(txt);
    sub = isSub;
  });
}
legend(gA,773,103,GREEN,[["v",false],["n",true]]);
legend(gA,774,207,"#000",[["v",false],["s",true]]);
legend(gB,1789,103,GREEN,[["v=v",false],["n",true],["\u2212v",false],["s",true]]);
legend(gB,1792,207,RED,[["v",false],["c",true]]);
</script>
</body></html>
